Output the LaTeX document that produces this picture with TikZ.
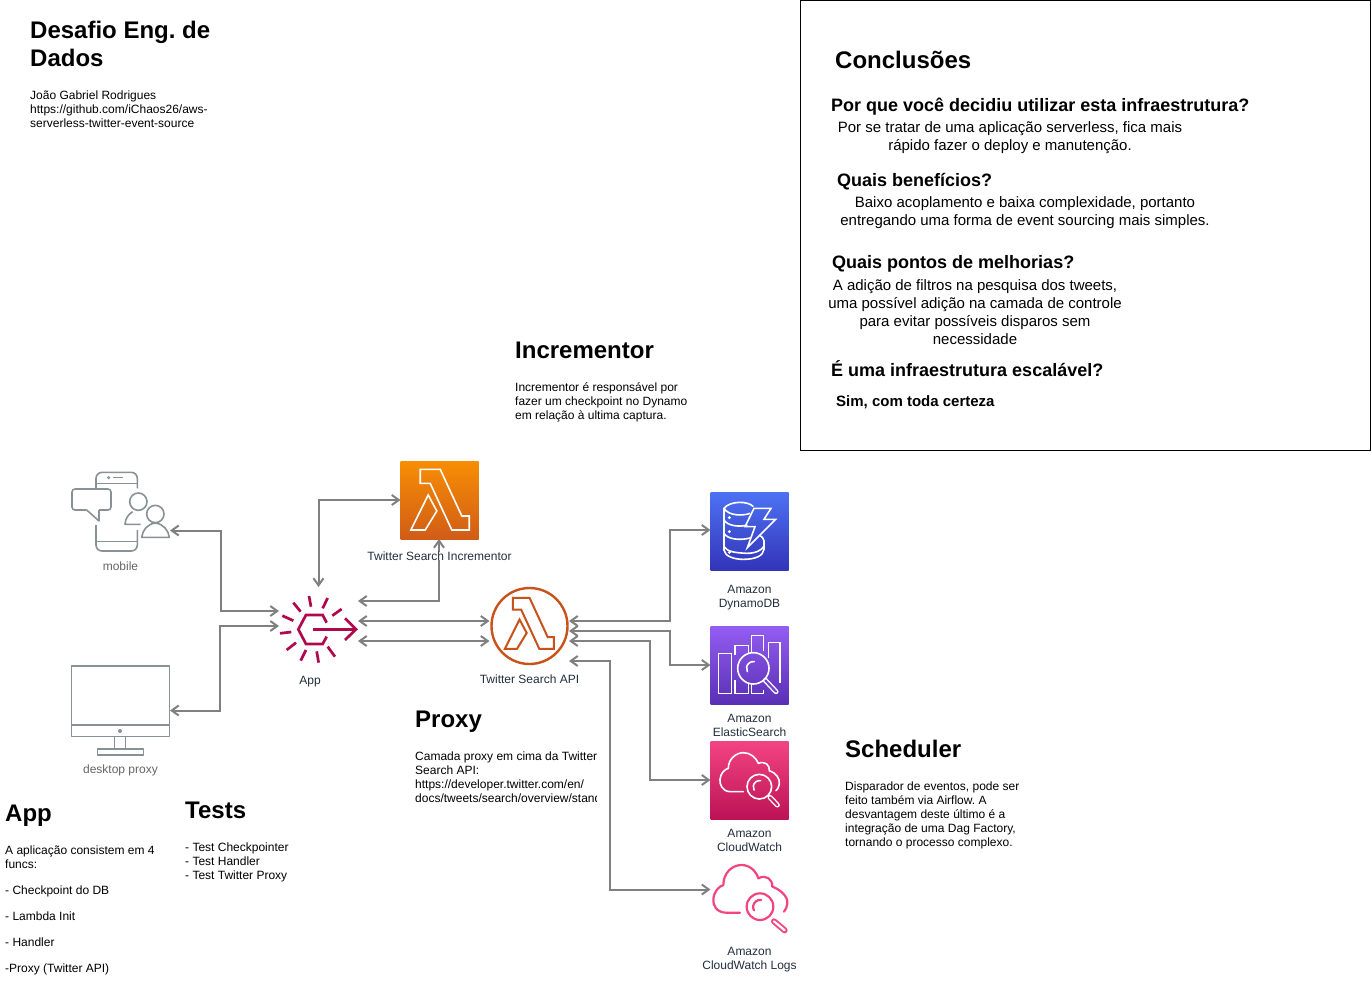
\documentclass[tikz,border=0pt]{standalone}
\usepackage{fontspec}
\setmainfont{Liberation Sans}
\usetikzlibrary{arrows.meta,calc}
\definecolor{linegray}{HTML}{808080}
\definecolor{icongray}{HTML}{879196}
\definecolor{labeldark}{HTML}{232F3E}
\definecolor{labelgray}{HTML}{666666}
\definecolor{appred}{HTML}{B0084D}
\definecolor{lamorange}{HTML}{C7531B}
\definecolor{logpink}{HTML}{F34482}
\definecolor{lamtop}{HTML}{F78E04}\definecolor{lambot}{HTML}{D05C17}
\definecolor{dbtop}{HTML}{4D72F3}\definecolor{dbbot}{HTML}{3334B9}
\definecolor{estop}{HTML}{945DF2}\definecolor{esbot}{HTML}{5A30B5}
\definecolor{cwtop}{HTML}{F34482}\definecolor{cwbot}{HTML}{BC1356}
\newcommand{\lambdashape}{%
  (-19.3,-30.7) -- (0.7,-30.7) -- (22.3,16) -- (29.7,16) -- (29.7,30) -- (12.3,30) -- (-9.3,-16.7) -- (-19.3,-16.7) -- cycle
  (-11.3,-5) -- (-2.7,11) -- (-14.3,30) -- (-28.7,30) -- cycle}
\tikzset{
  conn/.style={draw=linegray,line width=2pt,{Straight Barb[length=7pt,width=10pt]}-{Straight Barb[length=7pt,width=10pt]}},
  iconbox/.style={minimum width=78pt,minimum height=78pt,inner sep=0pt,outer sep=0pt},
  ghost/.style={inner sep=0pt,outer sep=0pt},
  cap12/.style={font=\fontsize{12}{14}\selectfont,align=center,inner sep=0pt,text=labeldark},
  capgray/.style={cap12,text=labelgray},
  hone/.style={font=\fontsize{24}{28}\selectfont\bfseries,align=left,inner sep=0pt,anchor=base west},
  htwo/.style={font=\fontsize{18}{21}\selectfont\bfseries,inner sep=0pt,anchor=base west},
  bodytext/.style={font=\fontsize{12}{14}\selectfont,align=left,inner sep=0pt,anchor=base west},
  concl/.style={font=\fontsize{15}{18}\selectfont,align=center,inner sep=0pt,anchor=base},
  thinw/.style={draw=white,line width=1.6pt,line join=miter},
  iconline/.style={draw=icongray,line width=1.6pt,line join=round},
  redline/.style={draw=appred,line width=2.7pt},
  pinkline/.style={draw=logpink,line width=2.2pt,line cap=round,line join=round},
  zoomed/.style={x=.33333pt,y=-.33333pt},
}
\begin{document}
\frenchspacing
\begin{tikzpicture}[x=1pt,y=-1pt]
\useasboundingbox (0,0) rectangle (1371,1004);
\fill[white] (0,0) rectangle (1371,1004);

% conclusions box
\node[ghost,draw=black,line width=.8pt,minimum width=570pt,minimum height=450pt] (box) at (1085.5,225.5) {};

% headings and texts
\node[hone] (t1) at (30,66) {Desafio Eng. de\\Dados};
\node[bodytext] (t2) at (30,127) {João Gabriel Rodrigues\\https://github.com/iChaos26/aws-\\serverless-twitter-event-source};
\node[hone] (t3) at (515,358) {Incrementor};
\node[bodytext] (t4) at (515,419) {Incrementor é responsável por\\fazer um checkpoint no Dynamo\\em relação à ultima captura.};
\node[hone] (t5) at (415,727) {Proxy};
\begin{scope}
\clip (415,745) rectangle (596.5,810);
\node[bodytext] (t6) at (415,802) {Camada proxy em cima da Twitter\\Search API:\\https://developer.twitter.com/en/\\docs/tweets/search/overview/standard};
\end{scope}
\node[hone] (t7) at (845,757) {Scheduler};
\node[bodytext] (t8) at (845,846) {Disparador de eventos, pode ser\\feito também via Airflow. A\\desvantagem deste último é a\\integração de uma Dag Factory,\\tornando o processo complexo.};
\node[hone] (t9) at (5,821) {App};
\node[bodytext] (t10) at (5,972) {A aplicação consistem em 4\\funcs:\\[12pt]- Checkpoint do DB\\[12pt]- Lambda Init\\[12pt]- Handler\\[12pt]-Proxy (Twitter API)};
\node[hone] (t11) at (185,818) {Tests};
\node[bodytext] (t12) at (185,879) {- Test Checkpointer\\- Test Handler\\- Test Twitter Proxy};

\node[hone] (c0) at (835,68) {Conclusões};
\node[htwo] (c1) at (831,111) {Por que você decidiu utilizar esta infraestrutura?};
\node[concl] (c2) at (1010,150) {Por se tratar de uma aplicação serverless, fica mais\\rápido fazer o deploy e manutenção.};
\node[htwo] (c3) at (837,186) {Quais benefícios?};
\node[concl] (c4) at (1025,225) {Baixo acoplamento e baixa complexidade, portanto\\entregando uma forma de event sourcing mais simples.};
\node[htwo] (c5) at (832,268) {Quais pontos de melhorias?};
\node[concl] (c6) at (975,344) {A adição de filtros na pesquisa dos tweets,\\uma possível adição na camada de controle\\para evitar possíveis disparos sem\\necessidade};
\node[htwo] (c7) at (831,376) {É uma infraestrutura escalável?};
\node[font=\fontsize{15}{18}\selectfont\bfseries,inner sep=0pt,anchor=base west] (c8) at (836,406) {Sim, com toda certeza};

% icon anchor nodes
\node[ghost,minimum width=99pt,minimum height=80pt] (mobile) at (120.5,511.5) {};
\node[ghost,minimum width=99pt,minimum height=90pt] (desktop) at (120.5,710.5) {};
\node[ghost,minimum width=79pt,minimum height=84pt] (app) at (318.5,629) {};
\node[iconbox,top color=lamtop,bottom color=lambot] (incr) at (439.5,500) {};
\node[ghost,circle,minimum size=79pt] (api) at (529.5,626) {};
\node[iconbox,top color=dbtop,bottom color=dbbot] (ddb) at (749.5,531) {};
\node[iconbox,top color=estop,bottom color=esbot] (es) at (749.5,665) {};
\node[iconbox,top color=cwtop,bottom color=cwbot] (cw) at (749.5,780) {};
\node[ghost,minimum width=78pt,minimum height=70pt] (logs) at (749.5,897) {};

% connectors
\draw[conn] (mobile.east |- 0,530.5) -- (221,530.5) |- (app.west |- 0,611);
\draw[conn] (desktop.east |- 0,710.5) -- (220,710.5) |- (app.west |- 0,626);
\draw[conn] (app.north) |- (incr.west);
\draw[conn] (439,539) |- (app.east |- 0,601);
\draw[conn] (app.east |- 0,621) -- (489.5,621);
\draw[conn] (app.east |- 0,641) -- (489.5,641);
\draw[conn] (569,621) -- (670,621) |- (ddb.west |- 0,530);
\draw[conn] (569,631) -- (670,631) |- (es.west);
\draw[conn] (569,641) -- (650,641) |- (cw.west);
\draw[conn] (569,661) -- (610,661) |- (logs.west |- 0,889.5);

% labels
\node[capgray] (lmobile) at (120.5,566) {mobile};
\node[capgray] (ldesk) at (120.5,770) {desktop proxy};
\node[cap12] (lapp) at (310,682) {App};
\node[cap12,fill=white] (lincr) at (439.5,556) {Twitter Search Incrementor};
\node[cap12] (lapi) at (529.5,679) {Twitter Search API};
\node[cap12] (lddb) at (749.5,598) {Amazon\\DynamoDB};
\node[cap12] (les) at (749.5,725) {Amazon\\ElasticSearch};
\node[cap12] (lcw) at (749.5,840) {Amazon\\CloudWatch};
\node[cap12] (llogs) at (749.5,960) {Amazon\\CloudWatch Logs};

% lambda symbols
\begin{scope}[shift={(439.5,500)}]
\draw[white,line width=1.6pt,line join=miter] \lambdashape;
\end{scope}
\draw[lamorange,line width=2.4pt] (api.center) circle (38pt);
\begin{scope}[shift={(529,623.7)},scale=.84]
\draw[lamorange,line width=2pt,line join=miter] \lambdashape;
\end{scope}

% mobile icon
\begin{scope}[shift={(50,450)},zoomed]
\draw[iconline,rounded corners=6pt] (138,115) -- (138,67) -- (262,67) -- (262,115);
\draw[iconline] (138,100) -- (262,100);
\fill[icongray] (176,83) circle (5);
\draw[iconline] (190,83) -- (218,83);
\draw[iconline,rounded corners=6pt] (138,225) -- (138,303) -- (262,303) -- (262,240);
\draw[iconline] (138,275) -- (262,275);
\draw[iconline,rounded corners=3pt] (110,180) -- (66,180) -- (66,117) -- (183,117) -- (183,180) -- (147,180);
\draw[iconline] (147,180) -- (147,213) -- (110,180);
\draw[iconline] (265,155) circle (26);
\draw[iconline] (316,192) circle (26);
\draw[iconline] (272,223) -- (225,223) .. controls (226,205) and (236,192) .. (248,185);
\draw[iconline] (275,262) -- (358,262) .. controls (355,240) and (340,222) .. (316,219) .. controls (292,222) and (278,240) .. cycle;
\end{scope}

% desktop icon
\begin{scope}[shift={(50,450)},zoomed]
\draw[iconline] (65,648) rectangle (358,860);
\draw[iconline] (65,825) -- (358,825);
\fill[icongray] (210,843) circle (6);
\draw[iconline] (194,860) -- (194,897) (226,860) -- (226,897);
\draw[iconline] (143,897) rectangle (280,915);
\end{scope}

% app icon
\begin{scope}[shift={(50,450)},zoomed]
\draw[redline] (777,438)--(783,470) (833,444)--(818,475) (875,477)--(847,497) (730,458)--(752,485) (697,497)--(730,512) (690,550)--(724,546) (710,600)--(738,578) (768,600)--(752,632) (800,604)--(806,638) (833,590)--(855,620);
\draw[redline,line join=miter] (830,518)--(818,495)--(768,495)--(745,538)--(768,582)--(818,582)--(830,560);
\draw[redline] (790,538)--(915,538);
\draw[redline,line join=miter] (885,505)--(918,538)--(885,570);
\end{scope}

% dynamodb icon
\begin{scope}[shift={(690,480)},zoomed]
\draw[thinw] (190,80) .. controls (175,62) and (120,62) .. (102,85) .. controls (115,108) and (160,108) .. (180,100);
\draw[thinw] (102,85) -- (102,210) .. controls (104,228) and (130,238) .. (160,238) .. controls (195,238) and (220,228) .. (222,208) -- (222,182) .. controls (221,175) and (216,170) .. (208,165);
\draw[thinw] (102,120) .. controls (112,138) and (150,142) .. (172,135);
\draw[thinw] (102,160) .. controls (112,178) and (150,182) .. (180,174);
\draw[thinw] (102,200) .. controls (112,214) and (130,218) .. (170,220) .. controls (195,220) and (215,212) .. (222,198);
\fill[white] (118,113) circle (5) (118,155) circle (5) (118,217) circle (5);
\draw[thinw] (192,85)--(243,85)--(222,118)--(257,118)--(172,203)--(195,140)--(165,140)--cycle;
\end{scope}

% elasticsearch icon
\begin{scope}[shift={(690,480)},zoomed]
\draw[thinw] (86,520) rectangle (125,640);
\draw[thinw] (135,600)--(135,640)--(175,640)--(175,612);
\draw[thinw] (135,525)--(135,497)--(175,497)--(175,520);
\draw[thinw] (185,518)--(185,467)--(220,467)--(220,512);
\draw[thinw] (185,612)--(185,640)--(220,640)--(220,630);
\draw[thinw] (235,535)--(235,487)--(270,487)--(270,610);
\draw[thinw] (190,565) circle (47);
\draw[thinw,line cap=round] (193,545) arc[start angle=280,end angle=150,radius=20];
\draw[white,line width=5pt,line cap=round] (226,601) -- (258,635);
\draw[esbot!60!estop,line width=2.2pt,line cap=round] (226,601) -- (258,635);
\end{scope}

% cloudwatch icon
\begin{scope}[shift={(690,730)},zoomed]
\draw[thinw,line cap=round] (160,185) -- (122,185) .. controls (95,185) and (88,160) .. (90,148) .. controls (92,128) and (105,118) .. (115,115) .. controls (115,85) and (140,68) .. (160,68) .. controls (180,68) and (198,82) .. (205,100) .. controls (225,92) and (240,105) .. (238,122) .. controls (258,128) and (270,145) .. (268,162) .. controls (267,172) and (262,178) .. (258,182);
\draw[thinw] (208,170) circle (37);
\draw[thinw,line cap=round] (212,152) arc[start angle=280,end angle=150,radius=19];
\draw[white,line width=5pt,line cap=round] (240,202) -- (262,225);
\draw[cwbot!75!cwtop,line width=2.2pt,line cap=round] (240,202) -- (262,225);
\end{scope}

% cloudwatch logs icon
\begin{scope}[shift={(690,730)},zoomed]
\draw[pinkline] (150,548) -- (108,548) .. controls (80,548) and (68,525) .. (70,508) .. controls (72,485) and (85,470) .. (100,465) .. controls (100,430) and (125,405) .. (155,405) .. controls (178,405) and (198,422) .. (205,445) .. controls (228,432) and (248,448) .. (247,470) .. controls (270,478) and (295,500) .. (292,520) .. controls (291,530) and (288,538) .. (282,545);
\draw[pinkline] (210,530) circle (40);
\draw[pinkline] (214,510) arc[start angle=280,end angle=150,radius=21];
\draw[logpink,line width=6pt,line cap=round] (252,574) -- (284,601);
\draw[white,line width=2.2pt,line cap=round] (252,574) -- (284,601);
\end{scope}
\end{tikzpicture}
\end{document}
